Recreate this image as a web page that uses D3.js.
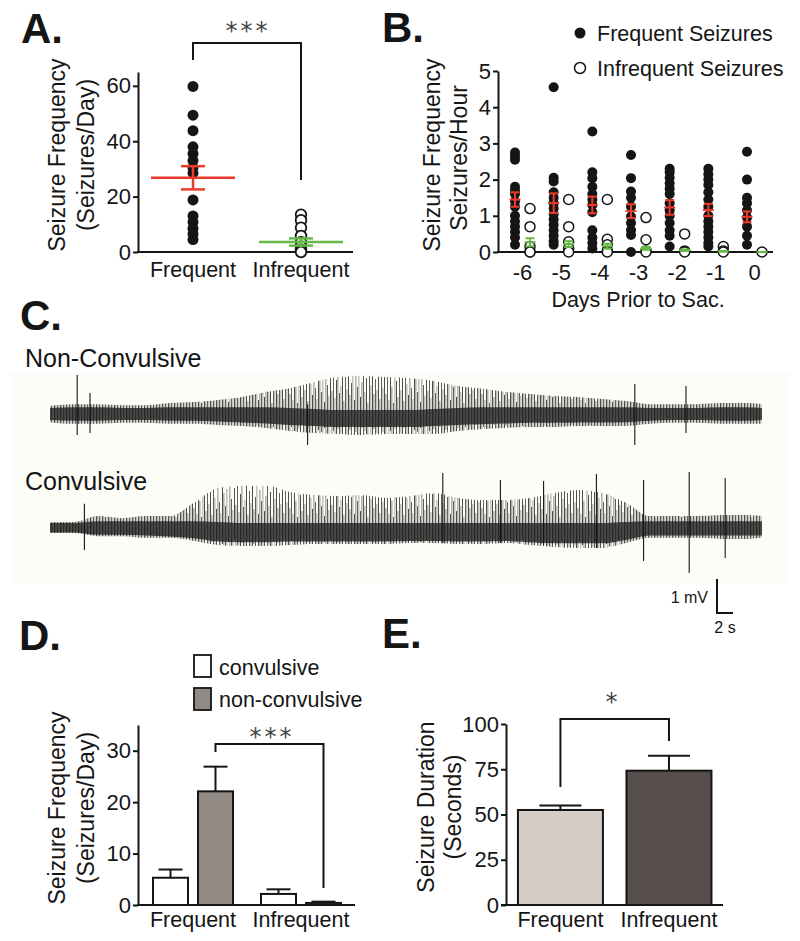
<!DOCTYPE html>
<html><head><meta charset="utf-8">
<script src="https://cdn.jsdelivr.net/npm/d3@7"></script>
<style>
body{margin:0;background:#fff}
svg{display:block}
text{font-family:"Liberation Sans",Arial,Helvetica,sans-serif;fill:#151515}
</style>
</head><body><svg id="c" width="800" height="941"></svg>
<script>
// ---------------- DATA ----------------
// Panel A
const groupsA = ["Frequent", "Infrequent"];
const freqA = [59.8, 49.4, 43.8, 38.0, 35.5, 33.0, 30.5, 28.5, 18.8, 13.0, 10.8, 8.5, 6.5, 4.5];
const infreqA = [13.5, 11.5, 8.8, 5.8, 3.5, 2.0, 0.8, 0.0];
const meanA = [26.8, 3.6];
const semA = [4.2, 1.3];
const ticksA = [0, 20, 40, 60];

// Panel B
const daysB = [-6, -5, -4, -3, -2, -1, 0];
const freqB = [
  [2.75, 2.65, 2.55, 1.8, 1.7, 1.6, 1.4, 1.25, 1.0, 0.85, 0.7, 0.55, 0.4, 0.2],
  [4.55, 2.05, 1.95, 1.65, 1.5, 1.35, 1.2, 1.05, 0.9, 0.75, 0.6, 0.45, 0.3, 0.2],
  [3.33, 2.2, 2.04, 1.8, 1.6, 1.45, 1.3, 1.1, 0.6, 0.4, 0.25, 0.1],
  [2.68, 2.04, 1.67, 1.5, 1.26, 0.98, 0.8, 0.61, 0.47, 0.0],
  [2.3, 2.2, 2.05, 1.9, 1.75, 1.6, 1.35, 1.15, 1.0, 0.8, 0.6, 0.45, 0.15],
  [2.3, 2.15, 2.0, 1.85, 1.65, 1.45, 1.25, 1.0, 0.85, 0.7, 0.55, 0.4, 0.25, 0.15],
  [2.77, 2.0, 1.5, 1.35, 1.15, 0.95, 0.7, 0.45, 0.2]
];
const infreqB = [
  [1.2, 0.7, 0.15, 0.0, 0.0],
  [1.45, 0.7, 0.28, 0.1, 0.0],
  [1.45, 0.35, 0.2, 0.03, 0.0],
  [0.95, 0.34, 0.03, 0.0],
  [0.5, 0.03, 0.0],
  [0.15, 0.03, 0.0],
  [0.0]
];
const freqMeanB = [1.45, 1.35, 1.3, 1.13, 1.23, 1.16, 0.97];
const freqSemB = [0.2, 0.27, 0.23, 0.19, 0.2, 0.17, 0.15];
const infreqMeanB = [0.27, 0.22, 0.16, 0.1, 0.05, 0.02, 0.0];
const infreqSemB = [0.11, 0.08, 0.07, 0.04, 0.02, 0.01, 0.0];
const ticksB = [0, 1, 2, 3, 4, 5];
const legendB = ["Frequent Seizures", "Infrequent Seizures"];

// Panel C (EEG traces, envelope, mV; time in s)
const traceLabels = ["Non-Convulsive", "Convulsive"];
const envT = [0, 3, 6, 9, 12, 15, 18, 21, 24, 27, 30, 33, 36, 39, 42, 45, 48, 51, 54, 57, 60, 63, 66, 69, 72, 75, 78, 81, 84, 87, 89];
const up1 = [0.24, 0.29, 0.29, 0.26, 0.26, 0.32, 0.35, 0.41, 0.5, 0.65, 0.76, 0.94, 1.09, 1.12, 1.09, 1.06, 0.97, 0.82, 0.74, 0.65, 0.59, 0.53, 0.5, 0.44, 0.38, 0.29, 0.29, 0.29, 0.32, 0.32, 0.29];
const dn1 = [0.24, 0.29, 0.29, 0.26, 0.26, 0.29, 0.29, 0.32, 0.35, 0.41, 0.5, 0.56, 0.59, 0.62, 0.59, 0.59, 0.59, 0.5, 0.44, 0.41, 0.38, 0.38, 0.35, 0.35, 0.35, 0.29, 0.26, 0.26, 0.29, 0.29, 0.29];
const coreUp1 = [0.18, 0.2, 0.2, 0.18, 0.18, 0.2, 0.2, 0.2, 0.2, 0.2, 0.18, 0.15, 0.12, 0.12, 0.12, 0.12, 0.15, 0.18, 0.2, 0.2, 0.2, 0.2, 0.2, 0.2, 0.2, 0.18, 0.18, 0.18, 0.2, 0.2, 0.18];
const coreDn1 = [0.18, 0.2, 0.2, 0.18, 0.18, 0.2, 0.2, 0.22, 0.25, 0.28, 0.32, 0.35, 0.38, 0.38, 0.38, 0.38, 0.35, 0.32, 0.3, 0.28, 0.26, 0.26, 0.25, 0.25, 0.24, 0.2, 0.18, 0.18, 0.2, 0.2, 0.18];
const spikeT1 = [3.4, 5.0, 32.2, 73.1, 79.5];
const spikeUp1 = [1.15, 0.62, 0.29, 0.88, 0.82];
const spikeDn1 = [0.62, 0.56, 0.91, 0.91, 0.56];

const up2 = [0.18, 0.18, 0.35, 0.29, 0.35, 0.35, 0.74, 1.18, 1.24, 1.24, 1.06, 0.97, 0.94, 0.97, 0.88, 0.94, 1.03, 0.88, 0.82, 0.82, 0.88, 1.03, 1.12, 1.03, 0.74, 0.35, 0.35, 0.35, 0.38, 0.38, 0.35];
const dn2 = [0.15, 0.15, 0.24, 0.24, 0.29, 0.29, 0.38, 0.5, 0.53, 0.53, 0.5, 0.47, 0.47, 0.47, 0.47, 0.44, 0.44, 0.47, 0.47, 0.44, 0.5, 0.56, 0.59, 0.59, 0.44, 0.29, 0.29, 0.29, 0.32, 0.32, 0.29];
const coreUp2 = [0.15, 0.15, 0.2, 0.2, 0.2, 0.2, 0.2, 0.18, 0.15, 0.15, 0.15, 0.15, 0.15, 0.15, 0.15, 0.15, 0.15, 0.15, 0.15, 0.15, 0.15, 0.15, 0.15, 0.15, 0.18, 0.2, 0.2, 0.2, 0.2, 0.2, 0.2];
const coreDn2 = [0.13, 0.13, 0.2, 0.2, 0.22, 0.25, 0.3, 0.4, 0.42, 0.42, 0.4, 0.4, 0.4, 0.4, 0.4, 0.38, 0.38, 0.4, 0.4, 0.38, 0.42, 0.45, 0.45, 0.45, 0.35, 0.22, 0.22, 0.22, 0.22, 0.22, 0.22];
const spikeT2 = [4.3, 49.1, 56.3, 61.7, 68.3, 74.2, 79.9, 84.4];
const spikeUp2 = [0.71, 1.62, 1.41, 1.38, 1.59, 1.41, 1.65, 1.47];
const spikeDn2 = [0.65, 0.44, 0.44, 0.5, 0.59, 0.97, 1.32, 0.88];
const scaleBarMv = 1, scaleBarSec = 2;

// Panel D
const groupsD = ["Frequent", "Infrequent"];
const typesD = ["convulsive", "non-convulsive"];
const convD = [5.3, 2.15];
const convSemD = [1.6, 0.9];
const nonconvD = [22.1, 0.4];
const nonconvSemD = [4.8, 0.25];
const ticksD = [0, 10, 20, 30];

// Panel E
const groupsE = ["Frequent", "Infrequent"];
const durE = [52.5, 74.2];
const semE = [2.5, 8.3];
const ticksE = [0, 25, 50, 75, 100];

// ---------------- DRAWING ----------------
const svg = d3.select("#c");
const defs = svg.append("defs");
const INK = "#151515", RED = "#ee3a2c", GREEN = "#66b946";

function txt(g, s, x, y, o = {}) {
  const t = g.append("text").text(s)
    .attr("font-size", o.size || 21)
    .attr("text-anchor", o.anchor || "start");
  if (o.weight) t.attr("font-weight", o.weight);
  if (o.family) t.style("font-family", o.family);
  if (o.fill) t.style("fill", o.fill);
  if (o.ls) t.attr("letter-spacing", o.ls);
  if (o.rot) t.attr("transform", `translate(${x},${y}) rotate(${o.rot})`);
  else t.attr("x", x).attr("y", y);
  return t;
}
function yAxis(g, scale, ticks, x) {
  const a = g.append("g").attr("transform", `translate(${x},0)`)
    .call(d3.axisLeft(scale).tickValues(ticks).tickFormat(d3.format("d"))
      .tickSize(5).tickSizeOuter(0).tickPadding(2));
  a.select(".domain").attr("stroke", INK).attr("stroke-width", 2);
  a.selectAll(".tick line").attr("stroke", INK).attr("stroke-width", 2);
  a.selectAll(".tick text").attr("font-size", 22).style("fill", INK)
    .style("font-family", '"Liberation Sans",Arial,sans-serif');
  return a;
}
function hline(g, x1, x2, y, w = 2) {
  g.append("line").attr("x1", x1).attr("x2", x2).attr("y1", y).attr("y2", y)
    .attr("stroke", INK).attr("stroke-width", w);
}
function stars(g, s, x, y) {
  txt(g, s, x, y, { size: 24, anchor: "middle", family: '"DejaVu Sans",sans-serif', fill: "#444", ls: 3 });
}

// ===== Panel A =====
{
  const g = svg.append("g");
  txt(g, "A.", 21, 43, { size: 42, weight: "bold" });
  const x = d3.scalePoint().domain(groupsA).range([193, 301]);
  const y = d3.scaleLinear().domain([0, 65]).range([252, 72]);
  yAxis(g, y, ticksA, 138);
  hline(g, 137, 353, 252);
  groupsA.forEach(d => txt(g, d, x(d), 277, { size: 21.5, anchor: "middle" }));
  txt(g, "Seizure Frequency", 65, 155, { size: 23, anchor: "middle", rot: -90 });
  txt(g, "(Seizures/Day)", 94, 155, { size: 23, anchor: "middle", rot: -90 });

  g.append("g").selectAll("circle").data(freqA).join("circle")
    .attr("cx", x("Frequent")).attr("cy", d => y(d)).attr("r", 5.5).attr("fill", INK);
  g.append("g").selectAll("circle").data(infreqA).join("circle")
    .attr("cx", x("Infrequent")).attr("cy", d => y(d)).attr("r", 5.3)
    .attr("fill", "#fff").attr("stroke", INK).attr("stroke-width", 1.8);
  groupsA.forEach((d, i) => {
    const c = i === 0 ? RED : GREEN, cx = x(d);
    const eg = g.append("g").attr("stroke", c).attr("stroke-width", 2.5);
    eg.append("line").attr("x1", cx - 42).attr("x2", cx + 42).attr("y1", y(meanA[i])).attr("y2", y(meanA[i]));
    eg.append("line").attr("x1", cx).attr("x2", cx).attr("y1", y(meanA[i] - semA[i])).attr("y2", y(meanA[i] + semA[i]));
    [meanA[i] - semA[i], meanA[i] + semA[i]].forEach(v =>
      eg.append("line").attr("x1", cx - 12).attr("x2", cx + 12).attr("y1", y(v)).attr("y2", y(v)));
  });
  g.append("path").attr("d", `M${x("Frequent")},60 V43 H${x("Infrequent")} V180`)
    .attr("fill", "none").attr("stroke", INK).attr("stroke-width", 2);
  stars(g, "***", 248, 39);
}

// ===== Panel B =====
{
  const g = svg.append("g");
  txt(g, "B.", 382, 42, { size: 42, weight: "bold" });
  const x = d3.scalePoint().domain(daysB).range([522.5, 754.5]);
  const y = d3.scaleLinear().domain([0, 5]).range([252, 71]);
  yAxis(g, y, ticksB, 498);
  hline(g, 497, 773, 252);
  daysB.forEach(d => txt(g, String(d), x(d), 280, { size: 22, anchor: "middle" }));
  txt(g, "Days Prior to Sac.", 638, 307, { size: 21.5, anchor: "middle" });
  txt(g, "Seizure Frequency", 440, 155, { size: 23, anchor: "middle", rot: -90 });
  txt(g, "Seizures/Hour", 467, 158, { size: 23, anchor: "middle", rot: -90 });
  const off = 7.5;
  daysB.forEach((d, i) => {
    g.append("g").selectAll("circle").data(freqB[i]).join("circle")
      .attr("cx", x(d) - off).attr("cy", v => y(v)).attr("r", 5).attr("fill", INK);
    g.append("g").selectAll("circle").data(infreqB[i]).join("circle")
      .attr("cx", x(d) + off).attr("cy", v => y(v)).attr("r", 5)
      .attr("fill", "#fff").attr("stroke", INK).attr("stroke-width", 1.5);
  });
  function err(cx, m, s, c) {
    const eg = g.append("g").attr("stroke", c).attr("stroke-width", 2);
    eg.append("line").attr("x1", cx - 5.5).attr("x2", cx + 5.5).attr("y1", y(m)).attr("y2", y(m));
    if (s > 0) {
      eg.append("line").attr("x1", cx).attr("x2", cx).attr("y1", y(m - s)).attr("y2", y(m + s));
      [m - s, m + s].forEach(v => eg.append("line").attr("x1", cx - 4.5).attr("x2", cx + 4.5).attr("y1", y(v)).attr("y2", y(v)));
    }
  }
  daysB.forEach((d, i) => {
    err(x(d) - off, freqMeanB[i], freqSemB[i], RED);
    err(x(d) + off, infreqMeanB[i], infreqSemB[i], GREEN);
  });
  g.append("circle").attr("cx", 580).attr("cy", 33).attr("r", 5.5).attr("fill", INK);
  txt(g, legendB[0], 597, 41, { size: 21.5 });
  g.append("circle").attr("cx", 580).attr("cy", 68).attr("r", 5.5).attr("fill", "#fff").attr("stroke", INK).attr("stroke-width", 1.5);
  txt(g, legendB[1], 597, 76, { size: 21.5 });
}

// ===== Panel C =====
{
  const g = svg.append("g");
  // texture (style only): irregular vertical strokes, clipped by the data envelope
  const texUp = [46,20,38,14,52,27,11,43,33,17,49,24,36,13,41,30,19,50,26,15,44,35,22,39,12,47,29,18,40,23,51,16,34,42,21,28,48,13,37,25,45,19,31,53,14,38,27,44,17,32,50,22,36,11,42,29,47,20,35,24,52,15,39,26];
  const texDn = [21,30,13,25,17,34,22,15,28,11,24,19,32,14,26,20,29,12,23,33,16,27,18,31,14,25,20,35,12,28,17,23,30,15,26,19,33,13,24,21,29,16,27,12,31,18,25,22,34,14,28,17,20,32,13,26,23,15,30,19,24,11,27,18];
  const texCol = ["#202020", "#6a6a6a", "#383838", "#8c8c8c"];
  function makePattern(id, base) {
    const p = defs.append("pattern").attr("id", id).attr("patternUnits", "userSpaceOnUse")
      .attr("x", 0).attr("y", base - 60).attr("width", 96).attr("height", 120);
    texUp.forEach((u, j) => {
      p.append("rect").attr("x", j * 1.5).attr("y", 60 - u).attr("width", 0.8)
        .attr("height", u + texDn[j]).attr("fill", texCol[j % 4]);
    });
  }
  g.append("rect").attr("x", 10).attr("y", 373).attr("width", 780).attr("height", 210).attr("fill", "#fdfdf7");
  txt(g, "C.", 20, 330, { size: 42, weight: "bold" });
  txt(g, traceLabels[0], 25, 367, { size: 25 });
  txt(g, traceLabels[1], 25, 490, { size: 25 });
  const x = d3.scaleLinear().domain([0, 89]).range([50, 762]);
  const traces = [
    { base: 414, up: up1, dn: dn1, cu: coreUp1, cd: coreDn1, st: spikeT1, su: spikeUp1, sd: spikeDn1 },
    { base: 528, up: up2, dn: dn2, cu: coreUp2, cd: coreDn2, st: spikeT2, su: spikeUp2, sd: spikeDn2 }
  ];
  let yLast;
  traces.forEach((tr, k) => {
    const y = d3.scaleLinear().domain([-1, 1]).range([tr.base + 34, tr.base - 34]);
    yLast = y;
    makePattern("tex" + k, tr.base);
    const idx = d3.range(envT.length);
    g.append("path").datum(idx)
      .attr("d", d3.area().x(i => x(envT[i])).y0(i => y(-tr.dn[i])).y1(i => y(tr.up[i])).curve(d3.curveMonotoneX))
      .attr("fill", `url(#tex${k})`);
    g.append("path").datum(idx)
      .attr("d", d3.area().x(i => x(envT[i])).y0(i => y(-tr.cd[i])).y1(i => y(tr.cu[i])).curve(d3.curveMonotoneX))
      .attr("fill", "#1a1a1a").attr("opacity", 0.75);
    g.append("g").selectAll("line").data(tr.st).join("line")
      .attr("x1", t => x(t)).attr("x2", t => x(t))
      .attr("y1", (t, i) => y(tr.su[i])).attr("y2", (t, i) => y(-tr.sd[i]))
      .attr("stroke", INK).attr("stroke-width", 1.1);
  });
  const bx = 717, by = 613;
  const barH = yLast(0) - yLast(scaleBarMv), barW = x(scaleBarSec) - x(0);
  g.append("path").attr("d", `M${bx},${by - barH} V${by} H${bx + barW}`)
    .attr("fill", "none").attr("stroke", INK).attr("stroke-width", 2);
  txt(g, scaleBarMv + " mV", 708, 603, { size: 16, anchor: "end" });
  txt(g, scaleBarSec + " s", bx + barW / 2, 633, { size: 16, anchor: "middle" });
}

// ===== Panel D =====
{
  const g = svg.append("g");
  txt(g, "D.", 19, 650, { size: 42, weight: "bold" });
  const x0 = d3.scalePoint().domain(groupsD).range([193, 301]);
  const x1 = d3.scaleBand().domain(typesD).range([-40, 40]).paddingInner(0.222);
  const y = d3.scaleLinear().domain([0, 35]).range([905, 725]);
  const fills = { "convulsive": "#ffffff", "non-convulsive": "#928b85" };
  const vals = { "convulsive": convD, "non-convulsive": nonconvD };
  const sems = { "convulsive": convSemD, "non-convulsive": nonconvSemD };
  groupsD.forEach((gname, gi) => {
    typesD.forEach(t => {
      const bx = x0(gname) + x1(t), bw = x1.bandwidth(), v = vals[t][gi], s = sems[t][gi];
      const cx = bx + bw / 2;
      g.append("line").attr("x1", cx).attr("x2", cx).attr("y1", y(v)).attr("y2", y(v + s)).attr("stroke", INK).attr("stroke-width", 2);
      g.append("line").attr("x1", cx - 12).attr("x2", cx + 12).attr("y1", y(v + s)).attr("y2", y(v + s)).attr("stroke", INK).attr("stroke-width", 2);
      g.append("rect").attr("x", bx).attr("y", y(v)).attr("width", bw).attr("height", y(0) - y(v))
        .attr("fill", fills[t]).attr("stroke", INK).attr("stroke-width", 2);
    });
  });
  yAxis(g, y, ticksD, 138);
  hline(g, 137, 355, 905);
  groupsD.forEach(d => txt(g, d, x0(d), 927, { size: 21.5, anchor: "middle" }));
  txt(g, "Seizure Frequency", 65, 808, { size: 23, anchor: "middle", rot: -90 });
  txt(g, "(Seizures/Day)", 94, 808, { size: 23, anchor: "middle", rot: -90 });
  const lx = x0("Frequent") + x1("non-convulsive") + x1.bandwidth() / 2;
  const rx = x0("Infrequent") + x1("non-convulsive") + x1.bandwidth() / 2;
  g.append("path").attr("d", `M${lx},752 V744 H${rx} V888`).attr("fill", "none").attr("stroke", INK).attr("stroke-width", 2);
  stars(g, "***", 272, 745);
  typesD.forEach((t, i) => {
    g.append("rect").attr("x", 194).attr("y", 655 + i * 33).attr("width", 17).attr("height", 22)
      .attr("fill", fills[t]).attr("stroke", INK).attr("stroke-width", 1.8);
    txt(g, t, 219, 675 + i * 32, { size: 21.5 });
  });
}

// ===== Panel E =====
{
  const g = svg.append("g");
  txt(g, "E.", 382, 648, { size: 42, weight: "bold" });
  const x = d3.scaleBand().domain(groupsE).range([506, 723.4]).paddingInner(0.217).paddingOuter(0.11);
  const y = d3.scaleLinear().domain([0, 100]).range([905, 724]);
  const fills = ["#d4ccc7", "#564e4a"];
  groupsE.forEach((d, i) => {
    const cx = x(d) + x.bandwidth() / 2, v = durE[i], s = semE[i];
    g.append("line").attr("x1", cx).attr("x2", cx).attr("y1", y(v)).attr("y2", y(v + s)).attr("stroke", INK).attr("stroke-width", 2);
    g.append("line").attr("x1", cx - 21).attr("x2", cx + 21).attr("y1", y(v + s)).attr("y2", y(v + s)).attr("stroke", INK).attr("stroke-width", 2);
    g.append("rect").attr("x", x(d)).attr("y", y(v)).attr("width", x.bandwidth()).attr("height", y(0) - y(v))
      .attr("fill", fills[i]).attr("stroke", INK).attr("stroke-width", 2);
  });
  yAxis(g, y, ticksE, 506);
  hline(g, 501, 723, 905);
  groupsE.forEach(d => txt(g, d, x(d) + x.bandwidth() / 2, 927, { size: 21.5, anchor: "middle" }));
  txt(g, "Seizure Duration", 434, 807, { size: 23, anchor: "middle", rot: -90 });
  txt(g, "(Seconds)", 461, 807, { size: 23, anchor: "middle", rot: -90 });
  const lx = x("Frequent") + x.bandwidth() / 2, rx = x("Infrequent") + x.bandwidth() / 2;
  g.append("path").attr("d", `M${lx},787 V719 H${rx} V741`).attr("fill", "none").attr("stroke", INK).attr("stroke-width", 2);
  stars(g, "*", 613, 710);
}
</script>
</body></html>
